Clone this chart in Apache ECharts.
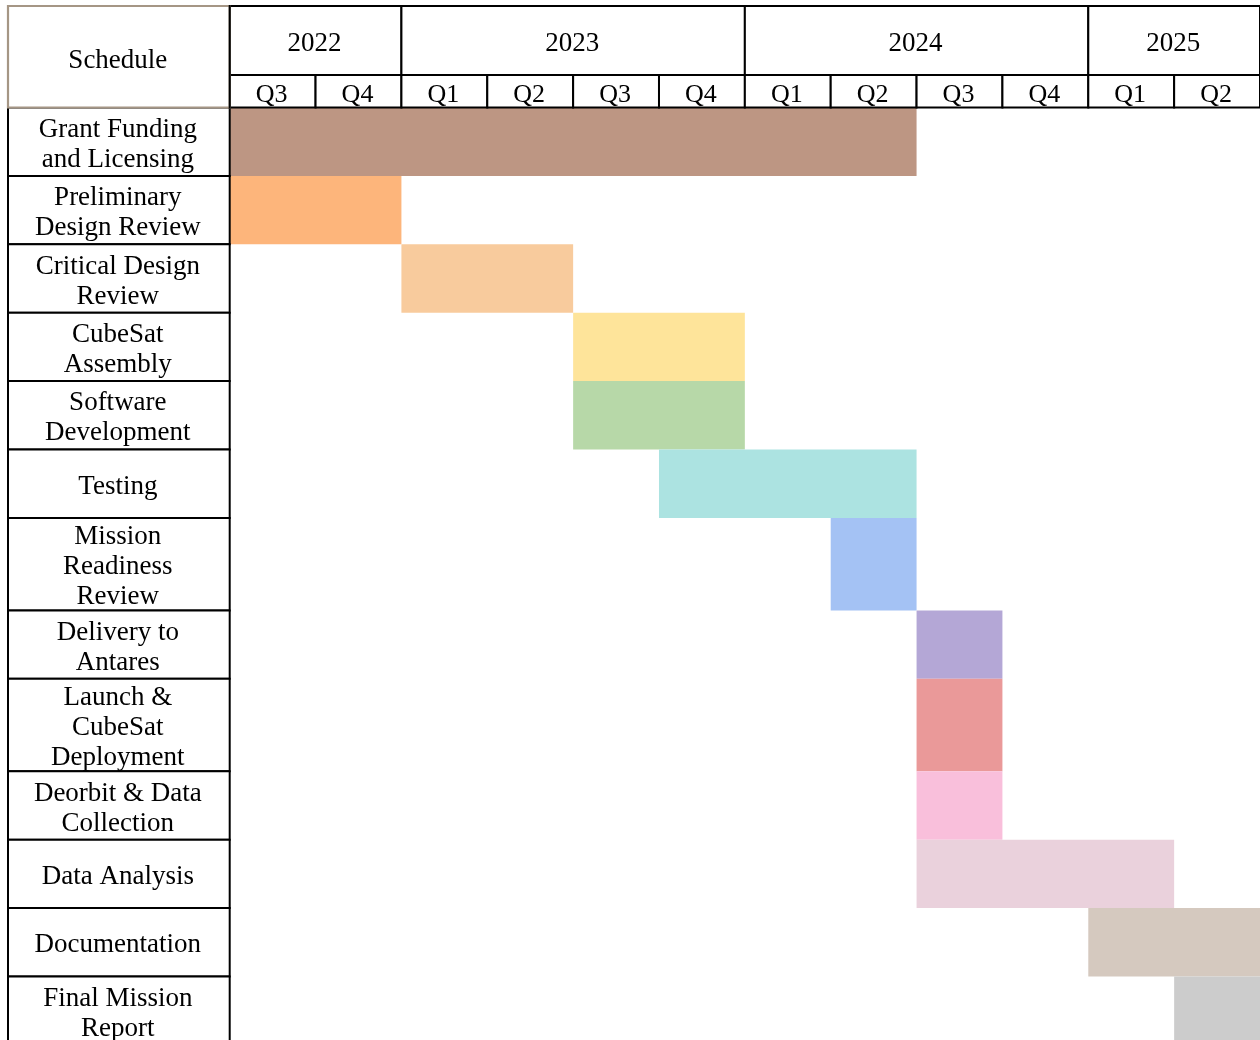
<!DOCTYPE html>
<html>
<head>
<meta charset="utf-8">
<script src="https://cdn.jsdelivr.net/npm/echarts@6/dist/echarts.min.js"></script>
<style>
  html, body { margin: 0; padding: 0; background: #ffffff; }
  #chart { width: 1260px; height: 1040px; }
</style>
</head>
<body>
<div id="chart"></div>
<script>
// ---- schedule data ----
const headerTitle = 'Schedule';
const years = ['2022', '2023', '2024', '2025'];
const yearQuarterCounts = [2, 4, 4, 2];
const quarterLabels = ['Q3', 'Q4', 'Q1', 'Q2', 'Q3', 'Q4', 'Q1', 'Q2', 'Q3', 'Q4', 'Q1', 'Q2'];
const tasks = [
  'Grant Funding\nand Licensing',
  'Preliminary\nDesign Review',
  'Critical Design\nReview',
  'CubeSat\nAssembly',
  'Software\nDevelopment',
  'Testing',
  'Mission\nReadiness\nReview',
  'Delivery to\nAntares',
  'Launch &\nCubeSat\nDeployment',
  'Deorbit & Data\nCollection',
  'Data Analysis',
  'Documentation',
  'Final Mission\nReport'
];
// first quarter of each task (0 = 2022 Q3) and the quarter right after it ends
const startQuarter = [0, 0, 2, 4, 4, 5, 7, 8, 8, 8, 8, 10, 11];
const endQuarter   = [8, 2, 4, 6, 6, 8, 8, 9, 9, 9, 11, 12, 12];

// ---- styling ----
const taskColors = [
  '#bd9683', '#fdb57b', '#f8cb9d', '#fee49a', '#b7d8a8', '#ace3e1', '#a4c2f4',
  '#b4a7d6', '#ea9999', '#f9bfdb', '#ead1dc', '#d5c9bf', '#cccccc'
];
const FONT_FAMILY = '"Liberation Serif", "Times New Roman", serif';
const FONT_SIZE = 27;
const LINE = '#000000';
const TITLE_BORDER = '#a59685';
const COL_LEFT = 8;        // left edge of the task-name column
const COL_RIGHT = 229.7;   // divider between task names and the timeline
const HEAD_TOP = 6;
const YEAR_BOTTOM = 75;
const HEAD_BOTTOM = 107.5;
const LINE_HEIGHT = 30;
const MIN_ROW = 68.4;
const TRIPLE_ROW = 92.5;
const GRID_SPAN = 900;     // pixel height of the plotting grid (rows continue past it)

// row extents follow the number of text lines in each task name
const rowTop = [];
const rowBottom = [];
let acc = 0;
tasks.forEach(function (t) {
  const lines = t.split('\n').length;
  const h = lines >= 3 ? TRIPLE_ROW : MIN_ROW;
  rowTop.push(acc);
  acc += h;
  rowBottom.push(acc);
});

// quarter offset where every year begins
const yearStart = [];
let q = 0;
yearQuarterCounts.forEach(function (c) { yearStart.push(q); q += c; });

const chart = echarts.init(document.getElementById('chart'), null, { renderer: 'canvas' });

function textStyle(text, x, y, size) {
  return {
    text: text,
    x: x,
    y: y,
    fill: '#000000',
    fontSize: size,
    fontFamily: FONT_FAMILY,
    lineHeight: LINE_HEIGHT,
    align: 'center',
    verticalAlign: 'middle'
  };
}

const option = {
  animation: false,
  backgroundColor: '#ffffff',
  grid: { left: COL_RIGHT, top: HEAD_BOTTOM, width: 1031, height: GRID_SPAN, containLabel: false },
  xAxis: { type: 'value', min: 0, max: quarterLabels.length, show: false },
  yAxis: { type: 'value', inverse: true, min: 0, max: GRID_SPAN, show: false },
  series: [
    {
      // task bars
      type: 'custom',
      clip: false,
      z: 2,
      data: tasks.map(function (t, i) { return [startQuarter[i], endQuarter[i], rowTop[i], rowBottom[i], i]; }),
      encode: { x: [0, 1], y: [2, 3] },
      renderItem: function (params, api) {
        const a = api.coord([api.value(0), api.value(2)]);
        const b = api.coord([api.value(1), api.value(3)]);
        return {
          type: 'rect',
          shape: { x: a[0], y: a[1], width: b[0] - a[0], height: b[1] - a[1] },
          style: { fill: taskColors[api.value(4)] }
        };
      }
    },
    {
      // task name cells
      type: 'custom',
      clip: false,
      z: 3,
      data: tasks.map(function (t, i) { return [0, rowTop[i], rowBottom[i], i]; }),
      encode: { x: 0, y: [1, 2] },
      renderItem: function (params, api) {
        const y0 = api.coord([0, api.value(1)])[1];
        const y1 = api.coord([0, api.value(2)])[1];
        const idx = api.value(3);
        return {
          type: 'group',
          children: [
            {
              type: 'rect',
              shape: { x: COL_LEFT, y: y0, width: COL_RIGHT - COL_LEFT, height: y1 - y0 },
              style: { fill: '#ffffff', stroke: LINE, lineWidth: 2 }
            },
            {
              type: 'text',
              style: textStyle(tasks[idx], (COL_LEFT + COL_RIGHT) / 2 - 1, (y0 + y1) / 2 + 3, FONT_SIZE)
            }
          ]
        };
      }
    },
    {
      // year header cells
      type: 'custom',
      clip: false,
      z: 3,
      data: years.map(function (y, i) { return [yearStart[i], yearStart[i] + yearQuarterCounts[i], i]; }),
      encode: { x: [0, 1] },
      renderItem: function (params, api) {
        const x0 = api.coord([api.value(0), 0])[0];
        const x1 = api.coord([api.value(1), 0])[0];
        const idx = api.value(2);
        return {
          type: 'group',
          children: [
            {
              type: 'rect',
              shape: { x: x0, y: HEAD_TOP, width: x1 - x0, height: YEAR_BOTTOM - HEAD_TOP },
              style: { fill: '#ffffff', stroke: LINE, lineWidth: 2 }
            },
            {
              type: 'text',
              style: textStyle(years[idx], (x0 + x1) / 2 - 1, 43.5, FONT_SIZE)
            }
          ]
        };
      }
    },
    {
      // quarter header cells
      type: 'custom',
      clip: false,
      z: 3,
      data: quarterLabels.map(function (l, i) { return [i, i + 1, i]; }),
      encode: { x: [0, 1] },
      renderItem: function (params, api) {
        const x0 = api.coord([api.value(0), 0])[0];
        const x1 = api.coord([api.value(1), 0])[0];
        const idx = api.value(2);
        return {
          type: 'group',
          children: [
            {
              type: 'rect',
              shape: { x: x0, y: YEAR_BOTTOM, width: x1 - x0, height: HEAD_BOTTOM - YEAR_BOTTOM },
              style: { fill: '#ffffff', stroke: LINE, lineWidth: 2 }
            },
            {
              type: 'text',
              style: textStyle(quarterLabels[idx], (x0 + x1) / 2 - 1, 95.5, 26)
            }
          ]
        };
      }
    }
  ],
  graphic: [
    {
      type: 'rect',
      z: 20,
      shape: { x: COL_LEFT, y: HEAD_TOP, width: COL_RIGHT - COL_LEFT, height: HEAD_BOTTOM - HEAD_TOP },
      style: { fill: '#ffffff', stroke: TITLE_BORDER, lineWidth: 2.2 }
    },
    {
      type: 'line',
      z: 21,
      shape: { x1: COL_RIGHT, y1: HEAD_TOP - 1, x2: COL_RIGHT, y2: HEAD_BOTTOM + 1 },
      style: { stroke: LINE, lineWidth: 2 }
    },
    {
      type: 'text',
      z: 21,
      style: textStyle(headerTitle, (COL_LEFT + COL_RIGHT) / 2 - 1, 60.5, FONT_SIZE)
    }
  ]
};

chart.setOption(option);
</script>
</body>
</html>
